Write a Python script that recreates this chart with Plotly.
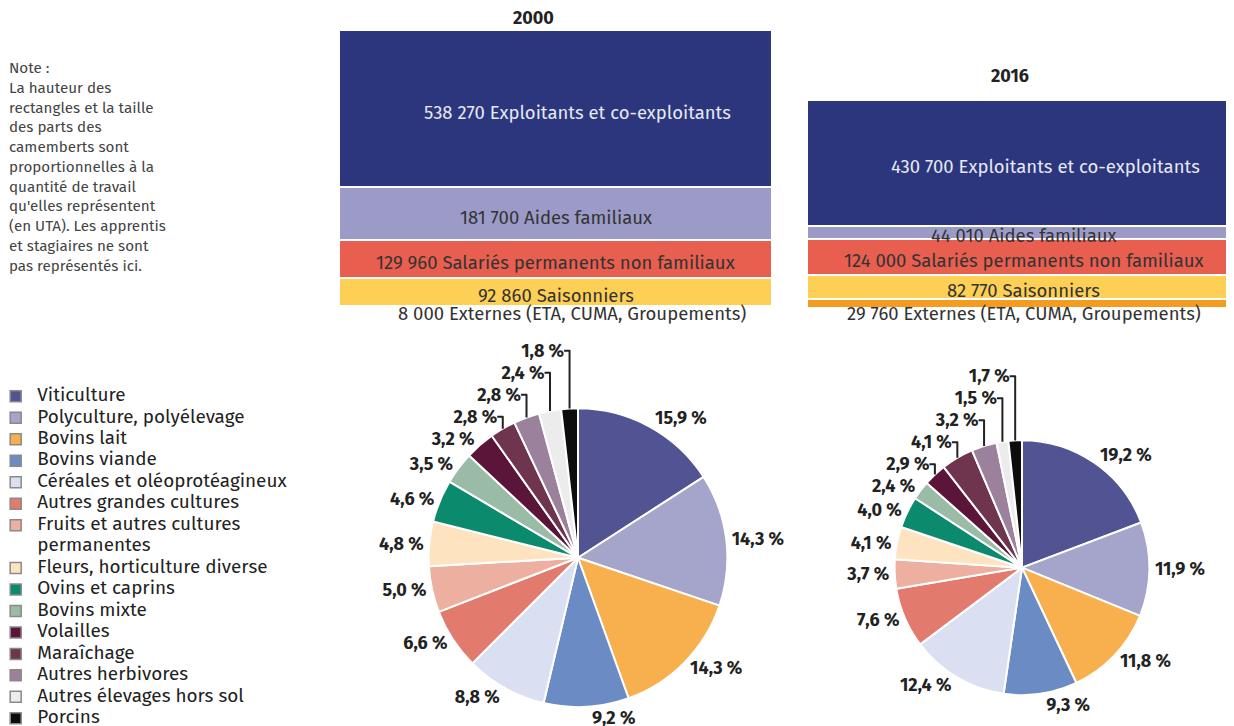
import plotly.graph_objects as go

W, H = 1234, 726
OFF = 8  # page body margin shifts the figure
FONT = "Fira Sans, Roboto, Noto Sans, sans-serif"

# --- data -----------------------------------------------------------------
years = ["2000", "2016"]
work_cats = [
    "Externes (ETA, CUMA, Groupements)",
    "Saisonniers",
    "Salariés permanents non familiaux",
    "Aides familiaux",
    "Exploitants et co-exploitants",
]
work_2000 = [8000, 92860, 129960, 181700, 538270]
work_2016 = [29760, 82770, 124000, 44010, 430700]
work_colors = ["#f39c1f", "#fdcf55", "#e85f50", "#9c9bc8", "#2b367d"]
work_text_colors = ["#333", "#333", "#333", "#333", "#e6e7f2"]

otex = [
    "Viticulture",
    "Polyculture, polyélevage",
    "Bovins lait",
    "Bovins viande",
    "Céréales et oléoprotéagineux",
    "Autres grandes cultures",
    "Fruits et autres cultures<br>permanentes",
    "Fleurs, horticulture diverse",
    "Ovins et caprins",
    "Bovins mixte",
    "Volailles",
    "Maraîchage",
    "Autres herbivores",
    "Autres élevages hors sol",
    "Porcins",
]
share_2000 = [15.9, 14.3, 14.3, 9.2, 8.8, 6.6, 5.0, 4.8, 4.6, 3.5, 3.2, 2.8, 2.8, 2.4, 1.8]
share_2016 = [19.2, 11.9, 11.8, 9.3, 12.4, 7.6, 3.7, 4.1, 4.0, 2.4, 2.9, 4.1, 3.2, 1.5, 1.7]
otex_colors = [
    "#515393", "#a5a4cb", "#f8b04e", "#6a8bc4", "#dadff1",
    "#e27b6d", "#edb0a0", "#fde3c0", "#0c8a6e", "#9abba5",
    "#5a1538", "#6f344e", "#9b819c", "#ececec", "#0d0d0d",
]

note = (
    "Note :<br>La hauteur des<br>rectangles et la taille<br>des parts des<br>"
    "camemberts sont<br>proportionnelles à la<br>quantité de travail<br>"
    "qu'elles représentent<br>(en UTA). Les apprentis<br>et stagiaires ne sont<br>"
    "pas représentés ici."
)


def px_x(p):
    return (p - OFF) / W


def px_y(p):
    return 1 - (p - OFF) / H


fig = go.Figure()

# --- stacked rectangles -----------------------------------------------------
xpos = list(range(len(years)))
for i, cat in enumerate(work_cats):
    fig.add_trace(
        go.Bar(
            x=xpos,
            y=[work_2000[i], work_2016[i]],
            name=cat,
            marker=dict(color=work_colors[i], line=dict(color="white", width=1.5)),
            width=0.923,
            showlegend=False,
            hoverinfo="skip",
        )
    )

for j, vals in enumerate([work_2000, work_2016]):
    base = 0
    for i, v in enumerate(vals):
        if i == 0:
            y, ysh = 0, -5
        else:
            y, ysh = base + v / 2, -3
        xsh = 0
        if i == 4:
            xsh = 22
        elif i == 0 and j == 0:
            xsh = 16
        fig.add_annotation(
            x=xpos[j], y=y, xref="x", yref="y",
            text=f"{v:,}".replace(",", " ") + " " + work_cats[i],
            showarrow=False,
            xshift=xsh,
            yshift=ysh,
            font=dict(family=FONT, size=18.5, color=work_text_colors[i]),
        )
        base += v
    fig.add_annotation(
        x=xpos[j], y=base, xref="x", yref="y",
        text=f"<b>{years[j]}</b>",
        showarrow=False,
        yanchor="bottom",
        xshift=-22 if j == 0 else -14,
        yshift=0 if j == 0 else 12,
        font=dict(family=FONT, size=18, color="#222"),
    )

# --- pies -------------------------------------------------------------------
pie_common = dict(
    labels=otex,
    sort=False,
    direction="clockwise",
    rotation=0,
    marker=dict(colors=otex_colors, line=dict(color="white", width=2)),
    textposition="outside",
    texttemplate="%{value:.1f} %",
    textfont=dict(family=FONT, size=18, color="#222", weight="bold"),
    showlegend=False,
    hoverinfo="label+value",
)
fig.add_trace(
    go.Pie(
        values=share_2000,
        domain=dict(x=[px_x(428), px_x(728)], y=[px_y(710), px_y(410)]),
        **pie_common,
    )
)
fig.add_trace(
    go.Pie(
        values=share_2016,
        domain=dict(x=[px_x(894), px_x(1150)], y=[px_y(698), px_y(442)]),
        **pie_common,
    )
)

# --- legend drawn as a small scatter panel -----------------------------------
row = 0
mark_rows, line_rows, line_texts = [], [], []
for lab in otex:
    mark_rows.append(row)
    for part in lab.split("<br>"):
        line_rows.append(row)
        line_texts.append(part)
        row += 1

fig.add_trace(
    go.Scatter(
        x=[0.53] * len(mark_rows),
        y=mark_rows,
        mode="markers",
        marker=dict(symbol="square", size=11, color=otex_colors,
                    line=dict(color="#8a8a8a", width=1.5)),
        xaxis="x3", yaxis="y3",
        showlegend=False,
        hoverinfo="skip",
    )
)
fig.add_trace(
    go.Scatter(
        x=[1.27] * len(line_rows),
        y=line_rows,
        mode="text",
        text=line_texts,
        textposition="middle right",
        textfont=dict(family=FONT, size=18.9, color="#222"),
        xaxis="x3", yaxis="y3",
        showlegend=False,
        hoverinfo="skip",
    )
)

fig.add_annotation(
    xref="paper", yref="paper",
    x=px_x(7), y=px_y(57),
    xanchor="left", yanchor="top", align="left",
    text=note,
    showarrow=False,
    font=dict(family=FONT, size=15.2, color="#444"),
)

LEG_STEP = 21.55
LEG_TOP = 387.2
leg_span = (H + OFF - LEG_TOP) / LEG_STEP

fig.update_layout(
    width=W,
    height=H,
    margin=dict(l=0, r=0, t=0, b=0),
    paper_bgcolor="white",
    plot_bgcolor="rgba(0,0,0,0)",
    barmode="stack",
    bargap=0,
    separators=", ",
    font=dict(family=FONT),
    xaxis=dict(domain=[px_x(322), 1], range=[-0.5, 1.449 + OFF / 468], visible=False),
    yaxis=dict(domain=[px_y(310), px_y(31)], range=[0, sum(work_2000)], visible=False),
    xaxis3=dict(domain=[0, px_x(300)], range=[OFF / 30, 10 + OFF / 30], visible=False),
    yaxis3=dict(domain=[0, px_y(LEG_TOP)], range=[-0.5 + leg_span, -0.5], visible=False, anchor="x3"),
)

fig.write_html("out.html")
